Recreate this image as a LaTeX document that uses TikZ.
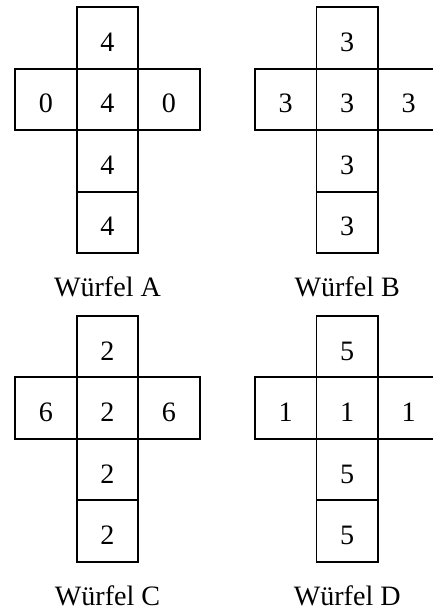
\documentclass[tikz,border=0pt]{standalone}
\usepackage{fontspec}
\setmainfont{Liberation Serif}
\usetikzlibrary{positioning}

\tikzset{
  feld/.style={draw,line width=.9pt,minimum size=1cm,inner sep=0pt,outer sep=0pt,
    text height=12.5pt,text depth=0pt},
  netzname/.style={inner sep=0pt}
}

\begin{document}
\begin{tikzpicture}[x=1cm,y=1cm,font=\fontsize{13}{15}\selectfont]
\clip (0,0) rectangle (7.04,9.935);
\foreach \n/\cx/\cy/\col/\mitte/\seite in {A/1.748/9.32/4/4/0,B/5.646/9.32/3/3/3,
  C/1.748/4.298/2/2/6,D/5.646/4.298/5/1/1}{
  \node[feld] (\n-oben) at (\cx,\cy) {\col};
  \node[feld,below=0pt of \n-oben] (\n-mitte) {\mitte};
  \node[feld,left=0pt of \n-mitte] (\n-links) {\seite};
  \node[feld,right=0pt of \n-mitte] (\n-rechts) {\seite};
  \node[feld,below=0pt of \n-mitte] (\n-unten) {\col};
  \node[feld,below=0pt of \n-unten] (\n-boden) {\col};
  \node[netzname] (\n-name) at ([yshift=-.553cm]\n-boden.south) {Würfel \n};
}
\end{tikzpicture}
\end{document}
